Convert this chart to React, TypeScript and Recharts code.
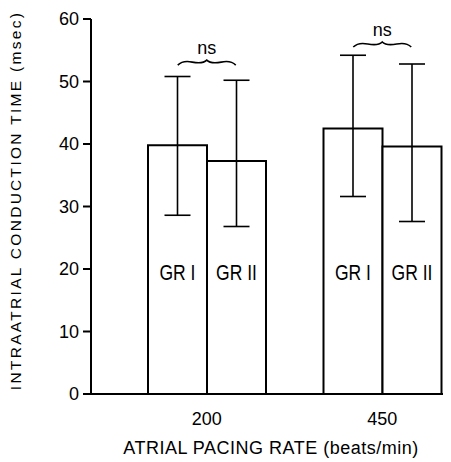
import React from 'react';
import { BarChart, Bar, XAxis, YAxis, ErrorBar, LabelList, ReferenceDot, Label } from 'recharts';

const rates = ['200', '450'];
const grI = [39.8, 42.5];
const grII = [37.3, 39.6];
const grIHigh = [50.8, 54.2];
const grILow = [28.6, 31.6];
const grIIHigh = [50.2, 52.8];
const grIILow = [26.8, 27.6];
const nsLevel = [53.1, 56.0];
const yTicks = [0, 10, 20, 30, 40, 50, 60];

const data = rates.map((r, i) => ({
  rate: r,
  grI: grI[i],
  grII: grII[i],
  errI: [grI[i] - grILow[i], grIHigh[i] - grI[i]],
  errII: [grII[i] - grIILow[i], grIIHigh[i] - grII[i]],
}));

const FONT = '"Liberation Sans", Arial, sans-serif';

const grLabel = (text: string) => (props: any) => {
  const { x, y, width, height } = props;
  const cx = x + width / 2;
  const by = y + height - 114;
  return (
    <text
      transform={`translate(${cx}, ${by}) scale(1, 1.22)`}
      x={0}
      y={0}
      textAnchor="middle"
      fontSize={17.5}
      fontFamily={FONT}
      fill="#000"
    >
      {text}
    </text>
  );
};

const NsMark = (props: any) => {
  const { cx, cy } = props;
  const w = 58;
  const l = cx - w / 2;
  const r = cx + w / 2;
  const d = `M${l},${cy + 3} Q${l + 5},${cy - 2} ${cx - w / 4},${cy} Q${cx - 4},${cy + 2} ${cx},${cy - 2} Q${cx + 4},${cy + 2} ${cx + w / 4},${cy} Q${r - 5},${cy - 2} ${r},${cy + 3}`;
  return (
    <g>
      <path d={d} fill="none" stroke="#000" strokeWidth={1.6} />
      <text x={cx} y={cy - 8} textAnchor="middle" fontSize={18} fontFamily={FONT} fill="#000">
        ns
      </text>
    </g>
  );
};

const YTitle = (props: any) => {
  const { viewBox } = props;
  const x = viewBox.x + 13;
  const y = viewBox.y + viewBox.height / 2 - 6;
  return (
    <text
      x={x}
      y={y}
      transform={`rotate(-90, ${x}, ${y})`}
      textAnchor="middle"
      fontSize={15.5}
      letterSpacing={2.3}
      fontFamily={FONT}
      fill="#000"
    >
      INTRAATRIAL CONDUCTION TIME (msec)
    </text>
  );
};

export default function App() {
  return (
    <BarChart
      width={443}
      height={450}
      data={data}
      margin={{ top: 11, right: 0, bottom: 0, left: 0 }}
      barGap={0}
      barSize={59}
    >
      <XAxis
        dataKey="rate"
        height={64}
        padding={{ left: 28, right: -19 }}
        axisLine={{ stroke: '#000', strokeWidth: 2 }}
        tickLine={false}
        tickMargin={12}
        tick={{ fill: '#000', fontSize: 18, fontFamily: FONT }}
      >
        <Label
          value="ATRIAL PACING RATE (beats/min)"
          position="insideBottom"
          offset={4}
          style={{ fill: '#000', fontSize: 18, letterSpacing: 0.5, fontFamily: FONT }}
        />
      </XAxis>
      <YAxis
        width={83}
        domain={[0, 60]}
        ticks={yTicks}
        interval={0}
        axisLine={{ stroke: '#000', strokeWidth: 2 }}
        tickLine={{ stroke: '#000', strokeWidth: 2 }}
        tickSize={8}
        tickMargin={4}
        tick={{ fill: '#000', fontSize: 18, fontFamily: FONT }}
      >
        <Label content={YTitle} />
      </YAxis>
      <Bar dataKey="grI" fill="#fff" stroke="#000" strokeWidth={2} isAnimationActive={false}>
        <ErrorBar dataKey="errI" width={13} stroke="#000" strokeWidth={1.6} />
        <LabelList content={grLabel('GR I')} />
      </Bar>
      <Bar dataKey="grII" fill="#fff" stroke="#000" strokeWidth={2} isAnimationActive={false}>
        <ErrorBar dataKey="errII" width={13} stroke="#000" strokeWidth={1.6} />
        <LabelList content={grLabel('GR II')} />
      </Bar>
      {rates.map((r, i) => (
        <ReferenceDot key={r} x={r} y={nsLevel[i]} shape={NsMark} ifOverflow="visible" />
      ))}
    </BarChart>
  );
}
